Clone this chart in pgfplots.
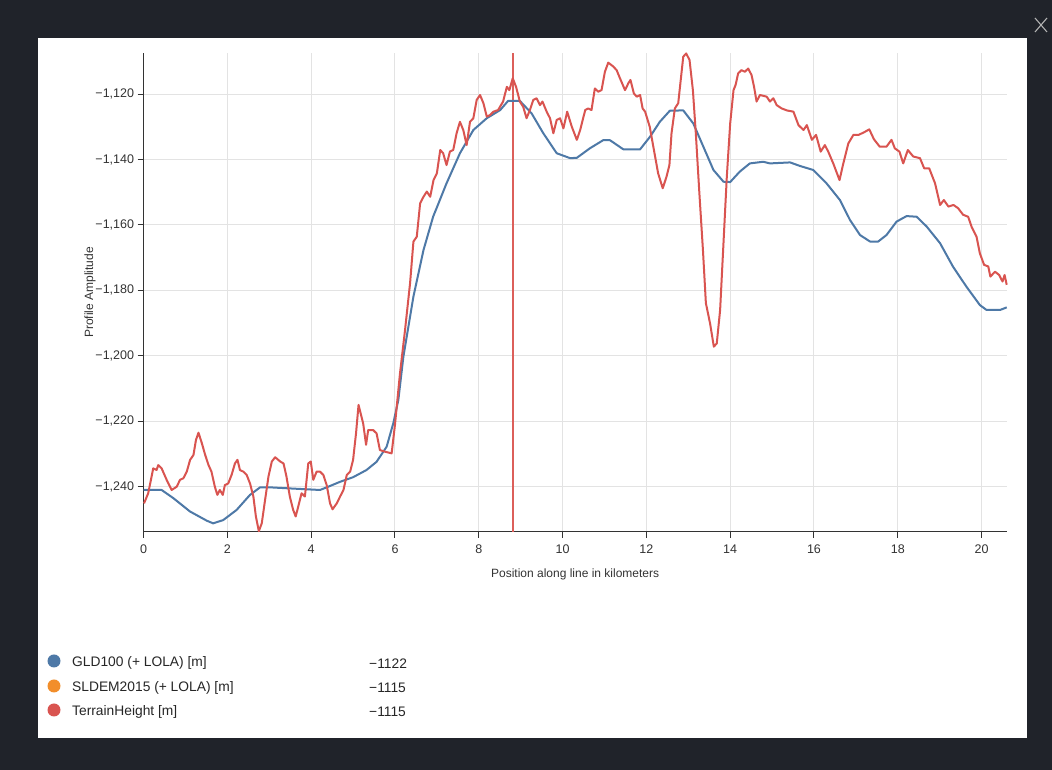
\documentclass[border=0pt]{standalone}
\usepackage{fontspec}
\setmainfont{Liberation Sans}
\usepackage{pgfplots}
\usepackage{pgfplotstable}
\pgfplotsset{compat=1.18}

\definecolor{panelbg}{RGB}{32,35,42}
\definecolor{gldblue}{RGB}{78,121,167}
\definecolor{sldorange}{RGB}{242,142,43}
\definecolor{terrred}{RGB}{217,84,80}
\definecolor{cursorred}{RGB}{220,95,90}
\definecolor{txt}{RGB}{51,51,51}

% GLD100 (+ LOLA) profile
\pgfplotstableread{
x y
0.00 -1241.0
0.43 -1241.0
0.71 -1243.5
1.11 -1247.6
1.51 -1250.4
1.66 -1251.2
1.90 -1250.2
2.22 -1247.1
2.54 -1242.5
2.78 -1240.2
3.02 -1240.2
3.60 -1240.6
4.21 -1241.0
4.37 -1240.2
4.69 -1238.5
5.00 -1237.1
5.32 -1234.9
5.56 -1232.4
5.80 -1227.8
5.96 -1220.6
6.08 -1213.5
6.20 -1200.3
6.44 -1181.9
6.68 -1167.7
6.91 -1157.5
7.23 -1147.3
7.55 -1138.1
7.87 -1131.0
8.19 -1127.4
8.51 -1124.9
8.70 -1122.1
8.98 -1122.1
9.26 -1125.9
9.54 -1132.0
9.86 -1138.1
10.18 -1139.6
10.34 -1139.5
10.65 -1136.6
10.97 -1134.1
11.13 -1134.1
11.45 -1136.9
11.85 -1136.9
12.09 -1133.0
12.32 -1128.5
12.56 -1125.1
12.88 -1125.0
13.12 -1129.0
13.36 -1136.1
13.60 -1143.2
13.84 -1146.8
14.00 -1146.9
14.23 -1143.7
14.47 -1141.2
14.79 -1140.7
14.95 -1141.2
15.43 -1140.9
15.67 -1142.0
15.98 -1143.2
16.30 -1147.3
16.62 -1152.4
16.86 -1158.5
17.10 -1163.1
17.34 -1165.1
17.53 -1165.1
17.73 -1163.1
17.97 -1159.0
18.21 -1157.3
18.45 -1157.5
18.69 -1160.5
19.01 -1165.6
19.32 -1172.8
19.64 -1178.9
19.96 -1184.5
20.12 -1186.0
20.44 -1186.0
20.60 -1185.2
}\gldtable

% TerrainHeight profile
\pgfplotstableread{
x y
0.01 -1245.1
0.11 -1242.0
0.23 -1234.4
0.31 -1234.9
0.35 -1233.4
0.43 -1234.4
0.55 -1237.9
0.67 -1241.0
0.79 -1240.0
0.87 -1237.9
0.95 -1237.4
1.03 -1235.4
1.11 -1231.8
1.19 -1230.3
1.25 -1225.7
1.31 -1223.5
1.39 -1226.7
1.47 -1230.3
1.55 -1233.4
1.62 -1235.4
1.70 -1240.0
1.76 -1242.5
1.82 -1241.0
1.89 -1242.5
1.94 -1239.5
2.02 -1239.0
2.10 -1236.4
2.18 -1232.9
2.24 -1231.8
2.30 -1234.9
2.38 -1235.4
2.46 -1236.4
2.54 -1239.0
2.62 -1243.0
2.68 -1249.1
2.75 -1253.6
2.82 -1251.2
2.90 -1244.0
2.98 -1236.9
3.06 -1232.3
3.14 -1231.0
3.26 -1232.3
3.34 -1232.9
3.41 -1236.9
3.49 -1243.0
3.57 -1247.1
3.63 -1249.1
3.69 -1246.1
3.77 -1242.0
3.85 -1243.0
3.93 -1232.9
3.99 -1232.3
4.05 -1237.9
4.13 -1235.4
4.21 -1235.4
4.29 -1236.4
4.37 -1239.5
4.45 -1245.1
4.51 -1246.9
4.61 -1245.1
4.69 -1243.0
4.77 -1241.0
4.85 -1236.4
4.93 -1235.4
5.00 -1231.8
5.07 -1223.7
5.13 -1215.0
5.18 -1217.6
5.24 -1220.6
5.31 -1227.2
5.36 -1222.7
5.48 -1222.7
5.56 -1223.7
5.64 -1228.8
5.76 -1229.3
5.92 -1229.8
6.00 -1221.0
6.12 -1205.3
6.24 -1192.1
6.36 -1177.8
6.44 -1165.1
6.52 -1163.6
6.60 -1153.4
6.68 -1151.4
6.76 -1149.8
6.84 -1151.4
6.92 -1146.3
7.00 -1144.2
7.08 -1137.1
7.15 -1138.1
7.23 -1141.7
7.31 -1137.6
7.39 -1137.1
7.47 -1132.0
7.55 -1128.5
7.63 -1131.0
7.71 -1135.6
7.79 -1128.5
7.87 -1127.4
7.95 -1121.8
8.03 -1120.3
8.11 -1122.8
8.19 -1126.9
8.27 -1126.4
8.35 -1125.4
8.46 -1124.9
8.58 -1122.3
8.67 -1117.8
8.73 -1118.8
8.81 -1115.2
8.89 -1117.8
8.98 -1122.3
9.06 -1123.9
9.14 -1127.4
9.22 -1124.9
9.30 -1121.8
9.38 -1121.3
9.46 -1123.4
9.52 -1122.3
9.62 -1125.4
9.70 -1127.4
9.78 -1132.0
9.86 -1127.9
9.94 -1127.4
10.02 -1130.5
10.11 -1125.4
10.22 -1130.0
10.34 -1134.0
10.42 -1131.0
10.54 -1124.9
10.61 -1124.4
10.69 -1124.9
10.77 -1118.3
10.85 -1119.3
10.93 -1118.8
11.01 -1113.2
11.09 -1110.4
11.21 -1111.6
11.29 -1112.7
11.37 -1115.2
11.49 -1118.8
11.57 -1116.7
11.62 -1115.7
11.70 -1119.8
11.77 -1120.8
11.85 -1120.3
11.91 -1124.4
11.97 -1125.4
12.08 -1130.0
12.18 -1137.1
12.28 -1144.2
12.39 -1148.8
12.48 -1145.3
12.55 -1141.7
12.60 -1132.0
12.68 -1124.4
12.76 -1122.8
12.82 -1115.7
12.88 -1108.6
12.95 -1107.6
13.03 -1109.6
13.11 -1118.8
13.18 -1132.0
13.26 -1149.3
13.35 -1167.7
13.42 -1183.9
13.52 -1190.1
13.61 -1197.2
13.68 -1196.2
13.76 -1186.0
13.84 -1165.6
13.92 -1145.2
14.00 -1129.0
14.08 -1118.8
14.13 -1117.2
14.19 -1113.7
14.27 -1112.7
14.35 -1113.2
14.43 -1112.2
14.51 -1114.2
14.57 -1117.8
14.63 -1122.3
14.71 -1120.3
14.87 -1120.8
14.95 -1122.3
15.03 -1121.3
15.11 -1123.4
15.23 -1124.4
15.35 -1125.0
15.51 -1125.4
15.63 -1129.5
15.75 -1131.0
15.83 -1129.5
15.95 -1134.0
16.05 -1132.5
16.16 -1137.6
16.26 -1135.6
16.34 -1137.6
16.46 -1141.2
16.61 -1146.3
16.70 -1141.2
16.82 -1135.1
16.94 -1132.5
17.06 -1132.5
17.18 -1131.8
17.32 -1130.8
17.43 -1133.8
17.57 -1136.1
17.73 -1136.1
17.85 -1134.0
17.93 -1136.6
18.04 -1137.6
18.13 -1141.2
18.24 -1137.1
18.37 -1139.1
18.53 -1139.6
18.63 -1142.7
18.75 -1142.7
18.89 -1147.3
19.01 -1153.9
19.10 -1152.4
19.21 -1154.4
19.33 -1153.9
19.44 -1154.9
19.56 -1156.9
19.68 -1157.5
19.76 -1160.5
19.88 -1163.6
19.96 -1168.7
20.06 -1172.2
20.16 -1172.7
20.21 -1175.8
20.32 -1174.3
20.42 -1175.3
20.50 -1177.3
20.55 -1175.3
20.60 -1178.3
}\terraintable

\begin{document}
\begin{tikzpicture}[x=1pt,y=1pt]
  \useasboundingbox (0,0) rectangle (1052,770);
  \fill[panelbg] (0,0) rectangle (1052,770);
  \fill[white] (38,32) rectangle (1027,732);
  % close icon
  \draw[gray!60, line width=1.1pt] (1035,752) -- (1047,738) (1035,738) -- (1047,752);

  \begin{axis}[
      at={(143.6pt,238.3pt)}, anchor=south west,
      scale only axis,
      width=863.1pt, height=478.4pt,
      xmin=0, xmax=20.6,
      ymin=-1253.75, ymax=-1107.55,
      axis x line*=bottom, axis y line*=left,
      axis line style={txt, line width=1.1pt},
      xtick={0,2,...,20},
      ytick={-1240,-1220,...,-1120},
      tick align=outside,
      major tick length=6pt,
      tick style={txt, line width=1pt},
      grid=major,
      major grid style={gray!22, line width=1pt},
      /pgf/number format/assume math mode=true,
      tick label style={font=\fontsize{12.5}{14}\selectfont, text=txt},
      xticklabel style={yshift=-4pt},
      yticklabel={\pgfmathparse{abs(\tick)}−\pgfmathprintnumber[fixed,precision=0,1000 sep={,},assume math mode=true]{\pgfmathresult}},
      xlabel={Position along line in kilometers},
      ylabel={Profile Amplitude},
      label style={font=\fontsize{12}{14}\selectfont, text=txt},
      xlabel style={at={(axis description cs:0.5,-0.089)}, anchor=center},
      ylabel style={at={(axis description cs:-0.062,0.5)}, anchor=center, rotate=0},
      clip=false,
    ]
    % cursor
    \addplot[cursorred, line width=1.4pt] coordinates {(8.82,-1253.75) (8.82,-1107.55)};
    \addplot[gldblue, line width=2pt, line join=round] table[x=x, y=y] {\gldtable};
    \addplot[terrred, line width=2pt, line join=round] table[x=x, y=y] {\terraintable};
  \end{axis}

  % legend with cursor values
  \begin{scope}[font=\fontsize{13.8}{16}\selectfont]
    \fill[gldblue] (54,109) circle (6.5);
    \fill[sldorange] (54,84) circle (6.5);
    \fill[terrred] (54,60) circle (6.5);
    \node[anchor=west, inner sep=0pt, text=black!85] at (72,107) {GLD100 (+ LOLA) [m]};
    \node[anchor=west, inner sep=0pt, text=black!85] at (72,82) {SLDEM2015 (+ LOLA) [m]};
    \node[anchor=west, inner sep=0pt, text=black!85] at (72,58) {TerrainHeight [m]};
    \node[anchor=west, inner sep=0pt, text=black!85] at (369,106) {−1122};
    \node[anchor=west, inner sep=0pt, text=black!85] at (369,82) {−1115};
    \node[anchor=west, inner sep=0pt, text=black!85] at (369,58) {−1115};
  \end{scope}
\end{tikzpicture}
\end{document}
